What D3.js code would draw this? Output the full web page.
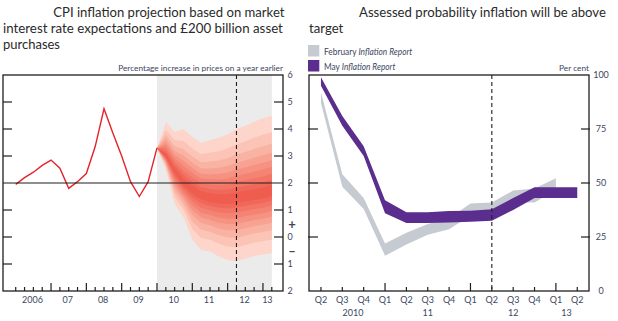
<!DOCTYPE html>
<html><head><meta charset="utf-8">
<script src="https://cdn.jsdelivr.net/npm/d3@7"></script>
<style>
body{margin:0;background:#fff}
svg{display:block}
text{font-family:Lato,"Open Sans",sans-serif}
</style>
</head><body>
<svg id="c" width="618" height="321"></svg>
<script>
// ---------- LEFT CHART DATA ----------
const cpiHistory = [1.95,2.2,2.4,2.65,2.85,2.55,1.8,2.05,2.35,3.35,4.75,3.85,3.0,2.05,1.5,2.05,3.3]; // 2006 Q1 .. 2010 Q1
const fanCentre = [3.3,3.0,2.45,2.0,1.75,1.55,1.45,1.4,1.4,1.45,1.5,1.55,1.6,1.7];      // 2010 Q1 .. 2013 Q2
const fanUpper  = [3.3,4.25,3.9,3.99,3.71,3.49,3.59,3.68,3.81,4.0,4.11,4.27,4.4,4.49];
const fanLower  = [3.3,2.5,1.22,0.74,-0.11,-0.48,-0.54,-0.72,-0.85,-0.91,-0.8,-0.7,-0.65,-0.6];
const fanBandLevels = [1,0.78,0.63,0.51,0.41,0.32,0.23,0.15,0.08];
const fanColours = ["#fdd5ca","#fbc4b6","#f9b3a3","#f7a292","#f69282","#f48374","#f27566","#f0685a","#ef5d4f"];
const leftYearLabels = ["2006","07","08","09","10","11","12","13"];
const leftYTicks = [6,5,4,3,2,1,0,-1,-2];
const leftQuarterCount = 30;      // 2006 Q1 .. 2013 Q2
const fanStartQuarter = 16;       // 2010 Q1
const leftDashedQuarter = 25;     // 2012 Q2

// ---------- RIGHT CHART DATA ----------
const probQuarters = ["Q2","Q3","Q4","Q1","Q2","Q3","Q4","Q1","Q2","Q3","Q4","Q1","Q2"];
const probYearLabels = ["2010","11","12","13"];
const febUpper = [92,54,43,22,27,31,33.6,40.5,41,46.5,47.5,52.2];
const febLower = [87,48.3,38,16.3,21.5,26,28.6,35,36,41,41,46.8];
const mayUpper = [99,81,67,42,36.5,36.5,37,37.2,37.8,43,48,48,48];
const mayLower = [95,76.5,62.5,36,31.5,31.5,31.7,32.1,32.5,37.5,43,43,43];
const probYTicks = [100,75,50,25,0];
const rightDashedQuarter = 8;     // 2012 Q2
const legendItems = [{pre:"February ",it:"Inflation Report",c:"#c5cbd1"},{pre:"May ",it:"Inflation Report",c:"#5a2d8e"}];

const svg = d3.select("#c");
const ink = "#1f1f1f", lab = "#3d4660";

function placeText(x,y,str,size,anchor,targetW,fill,weight){
  const g = svg.append("g");
  const t = g.append("text").attr("font-size",size).attr("text-anchor",anchor||"start").attr("fill",fill||lab);
  if (weight) t.attr("font-weight",weight);
  if (Array.isArray(str)) str.forEach(p=>t.append("tspan").attr("font-style",p.it?"italic":null).text(p.s));
  else t.text(str);
  const w = t.node().getBBox().width;
  const sx = (targetW && w>0) ? targetW/w : 1;
  g.attr("transform",`translate(${x},${y}) scale(${sx},1)`);
  return sx;
}

// ======= LEFT CHART =======
const L = {x0:3,x1:283,y0:75,y1:291};
const xL = d3.scaleLinear().domain([-1.44,30.27]).range([L.x0,L.x1]);
const yL = d3.scaleLinear().domain([-2,6]).range([L.y1,L.y0]);

svg.append("rect").attr("x",xL(fanStartQuarter)).attr("y",L.y0).attr("width",xL(leftQuarterCount-1)-xL(fanStartQuarter)).attr("height",L.y1-L.y0).attr("fill","#ebebeb");

const fanQ = fanCentre.map((c,i)=>({q:fanStartQuarter+i,c,u:fanUpper[i],l:fanLower[i]}));
fanBandLevels.forEach((lev,k)=>{
  const area = d3.area().x(d=>xL(d.q)).y0(d=>yL(d.c-(d.c-d.l)*lev)).y1(d=>yL(d.c+(d.u-d.c)*lev));
  svg.append("path").datum(fanQ).attr("d",area).attr("fill",fanColours[k]);
});

// history line
svg.append("path").datum(cpiHistory.map((v,i)=>({q:i,v})))
  .attr("d",d3.line().x(d=>xL(d.q)).y(d=>yL(d.v)))
  .attr("fill","none").attr("stroke","#e4232b").attr("stroke-width",1.4).attr("stroke-linejoin","miter");

// 2% line
svg.append("line").attr("x1",L.x0).attr("x2",L.x1).attr("y1",yL(2)).attr("y2",yL(2)).attr("stroke",ink).attr("stroke-width",1.2);
// dashed
svg.append("line").attr("x1",xL(leftDashedQuarter)).attr("x2",xL(leftDashedQuarter)).attr("y1",L.y0).attr("y2",L.y1)
  .attr("stroke",ink).attr("stroke-width",1.1).attr("stroke-dasharray","4,3");
// frame
svg.append("rect").attr("x",L.x0).attr("y",L.y0).attr("width",L.x1-L.x0).attr("height",L.y1-L.y0).attr("fill","none").attr("stroke",ink).attr("stroke-width",1.3);
// y ticks
leftYTicks.filter(v=>v>-2&&v<6&&v!==2).forEach(v=>{
  svg.append("line").attr("x1",L.x0).attr("x2",L.x0+9).attr("y1",yL(v)).attr("y2",yL(v)).attr("stroke",ink).attr("stroke-width",1.2);
  svg.append("line").attr("x1",L.x1-9).attr("x2",L.x1).attr("y1",yL(v)).attr("y2",yL(v)).attr("stroke",ink).attr("stroke-width",1.2);
});
leftYTicks.forEach(v=>{
  svg.append("text").attr("x",290).attr("y",yL(v)+3.2).attr("text-anchor","middle").attr("font-size",9).attr("fill",lab).text(Math.abs(v));
});
svg.append("text").attr("x",292).attr("y",yL(0.45)+4.5).attr("text-anchor","middle").attr("font-size",13).attr("font-weight","bold").attr("fill",lab).text("+");
svg.append("text").attr("x",292).attr("y",yL(-0.55)+4.5).attr("text-anchor","middle").attr("font-size",13).attr("font-weight","bold").attr("fill",lab).text("–");
// x ticks
d3.range(leftQuarterCount).forEach(q=>{
  const tall = q%4===0 && q>0;
  svg.append("line").attr("x1",xL(q)).attr("x2",xL(q)).attr("y1",L.y1).attr("y2",L.y1-(tall?8:4)).attr("stroke",ink).attr("stroke-width",1.2);
});
leftYearLabels.forEach((lbl,k)=>{
  const qs = d3.range(k*4,Math.min(k*4+4,leftQuarterCount));
  const mid = d3.mean(qs) + (qs.length>=3?0.4:0);
  svg.append("text").attr("x",xL(mid)).attr("y",303).attr("text-anchor","middle").attr("font-size",9).attr("fill",lab).text(lbl);
});
placeText(283,71,"Percentage increase in prices on a year earlier",8.3,"end",165,lab);

// ======= RIGHT CHART =======
const R = {x0:309,x1:589,y0:75,y1:291};
const xR = d3.scaleLinear().domain([-0.56,12.55]).range([R.x0,R.x1]);
const yR = d3.scaleLinear().domain([0,100]).range([R.y1,R.y0]);

const band = (up,lo)=>d3.area().x((d,i)=>xR(i)).y0((d,i)=>yR(lo[i])).y1((d,i)=>yR(up[i]));
svg.append("defs").append("clipPath").attr("id","rc").append("rect").attr("x",R.x0).attr("y",R.y0).attr("width",R.x1-R.x0).attr("height",R.y1-R.y0);
svg.append("path").datum(febUpper).attr("d",band(febUpper,febLower)).attr("fill","#c5cbd1").attr("clip-path","url(#rc)");
svg.append("path").datum(mayUpper).attr("d",band(mayUpper,mayLower)).attr("fill","#5a2d8e").attr("clip-path","url(#rc)");

svg.append("line").attr("x1",xR(rightDashedQuarter)).attr("x2",xR(rightDashedQuarter)).attr("y1",R.y0).attr("y2",R.y1)
  .attr("stroke",ink).attr("stroke-width",1.1).attr("stroke-dasharray","4,3");
svg.append("rect").attr("x",R.x0).attr("y",R.y0).attr("width",R.x1-R.x0).attr("height",R.y1-R.y0).attr("fill","none").attr("stroke",ink).attr("stroke-width",1.3);
probYTicks.filter(v=>v>0&&v<100).forEach(v=>{
  svg.append("line").attr("x1",R.x0-1).attr("x2",R.x0+9).attr("y1",yR(v)).attr("y2",yR(v)).attr("stroke",ink).attr("stroke-width",1.2);
  svg.append("line").attr("x1",R.x1-8).attr("x2",R.x1+1).attr("y1",yR(v)).attr("y2",yR(v)).attr("stroke",ink).attr("stroke-width",1.2);
});
probYTicks.forEach(v=>{
  svg.append("text").attr("x",601).attr("y",yR(v)+3.2).attr("text-anchor","middle").attr("font-size",9).attr("fill",lab).text(v);
});
probQuarters.forEach((q,i)=>{
  const tall = q==="Q1";
  svg.append("line").attr("x1",xR(i)).attr("x2",xR(i)).attr("y1",R.y1).attr("y2",R.y1-(tall?8:4)).attr("stroke",ink).attr("stroke-width",1.2);
  svg.append("text").attr("x",xR(i)).attr("y",303).attr("text-anchor","middle").attr("font-size",9).attr("fill",lab).text(q);
});
// year groups derived from Q1 boundaries
let groups=[],cur=[];
probQuarters.forEach((q,i)=>{ if(q==="Q1"&&cur.length){groups.push(cur);cur=[];} cur.push(i); });
groups.push(cur);
groups.forEach((qs,k)=>{
  const mid = d3.mean(qs)+(qs.length>=3?0.5:0);
  svg.append("text").attr("x",xR(mid)).attr("y",315.5).attr("text-anchor","middle").attr("font-size",9).attr("fill",lab).text(probYearLabels[k]);
});
placeText(589,71,"Per cent",8.3,"end",30,lab);

// legend
legendItems.forEach((d,i)=>{
  svg.append("rect").attr("x",308).attr("y",45+i*15).attr("width",11.3).attr("height",11.5).attr("fill",d.c);
  placeText(324,54.5+i*15,[{s:d.pre},{s:d.it,it:true}],9.3,"start",i===0?89:72,lab);
});

// titles
const tcol = "#2a2a2a";
placeText(53.3,16.5,"CPI inflation projection based on market",14,"start",231.5,tcol);
placeText(3,32.5,"interest rate expectations and £200 billion asset",14,"start",280,tcol);
placeText(3,48.5,"purchases",14,"start",57,tcol);
placeText(359,16.5,"Assessed probability inflation will be above",14,"start",247,tcol);
placeText(309,33,"target",14,"start",34.3,tcol);
</script>
</body></html>
